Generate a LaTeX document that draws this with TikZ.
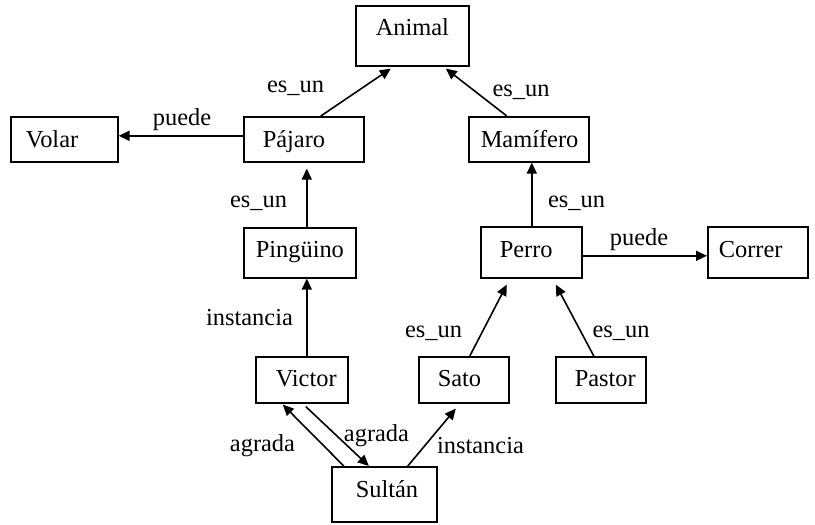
\documentclass[tikz,border=0pt]{standalone}
\usepackage{fontspec}
\setmainfont{Liberation Serif}
\usetikzlibrary{arrows.meta}

\begin{document}
\begin{tikzpicture}[x=0.5pt,y=-0.5pt,
  every node/.style={font=\fontsize{12.2}{14}\selectfont},
  caja/.style={draw,line width=0.8pt,anchor=north west,inner ysep=0pt,align=left,text height=15.5pt,text depth=7pt},
  etiqueta/.style={anchor=base,inner sep=0pt},
  flecha/.style={line width=0.8pt,-{Triangle[length=5.5pt,width=5pt]}}]

  \useasboundingbox (0,0) rectangle (815,525);

  \node[caja,inner xsep=10pt,text width=36.5pt,text height=15pt,text depth=15pt] (animal) at (355,5) {Animal};
  \node[caja,inner xsep=7.5pt,text width=38.5pt] (volar) at (10,116) {Volar};
  \node[caja,inner xsep=9.5pt,text width=41pt] (pajaro) at (243,116) {Pájaro};
  \node[caja,inner xsep=6pt,text width=48pt] (mamifero) at (468,116) {Mamífero};
  \node[caja,inner xsep=6pt,text width=44pt,text height=15pt,text depth=10pt] (pinguino) at (243,227) {Pingüino};
  \node[caja,inner xsep=9.5pt,text width=31.5pt,text depth=10pt] (perro) at (480,226) {Perro};
  \node[caja,inner xsep=5.5pt,text width=39pt,text depth=10pt] (correr) at (707,226) {Correr};
  \node[caja,inner xsep=10pt,text width=26pt,text height=15pt,text depth=8pt] (victor) at (255,356) {Victor};
  \node[caja,inner xsep=9.5pt,text width=26pt,text height=15pt,text depth=8pt] (sato) at (418,356) {Sato};
  \node[caja,inner xsep=9.5pt,text width=26pt,text height=15pt,text depth=8pt] (pastor) at (555,356) {Pastor};
  \node[caja,inner xsep=12pt,text width=28.5pt,text depth=12pt] (sultan) at (331,466) {Sultán};

  \draw[flecha] ([xshift=8.5pt]pajaro.north) -- ([xshift=-10.75pt,yshift=-1pt]animal.south);
  \draw[flecha] ([xshift=-11pt]mamifero.north) -- ([xshift=16.75pt,yshift=-1pt]animal.south);
  \draw[flecha] ([yshift=1.75pt]pajaro.west) -- ([yshift=1.75pt]volar.east);
  \draw[flecha] ([xshift=3.5pt]pinguino.north) -- ([xshift=1.5pt,yshift=-3pt]pajaro.south);
  \draw[flecha] ([xshift=0.25pt]perro.north) -- ([xshift=0.25pt]perro.north |- mamifero.south);
  \draw[flecha] ([yshift=-1.75pt]perro.east) -- ([yshift=-1.75pt]correr.west);
  \draw[flecha] ([xshift=2.5pt]victor.north) -- ([xshift=3.5pt]pinguino.south);
  \draw[flecha] ([xshift=3pt]sato.north) -- ([xshift=-12.25pt,yshift=-3pt]perro.south);
  \draw[flecha] ([xshift=-3.5pt]pastor.north) -- ([xshift=12.25pt,yshift=-3pt]perro.south);
  \draw[flecha] ([xshift=11.75pt]sultan.north) -- ([xshift=-4pt,yshift=-2.5pt]sato.south);
  \draw[flecha] ([xshift=-20.25pt]sultan.north) -- ([xshift=-9.5pt,yshift=-0.5pt]victor.south);
  \draw[flecha] ([xshift=2pt,yshift=-1.5pt]victor.south) -- ([xshift=-7.75pt]sultan.north);

  \node[etiqueta] (esun1) at (295.5,92) {es\_un};
  \node[etiqueta] (puede1) at (182,125) {puede};
  \node[etiqueta] (esun2) at (258.5,207) {es\_un};
  \node[etiqueta] (esun3) at (521,96) {es\_un};
  \node[etiqueta] (esun4) at (576.5,207) {es\_un};
  \node[etiqueta] (puede2) at (639,245) {puede};
  \node[etiqueta] (inst1) at (249.5,325) {instancia};
  \node[etiqueta] (esun5) at (433.5,337) {es\_un};
  \node[etiqueta] (esun6) at (621,337) {es\_un};
  \node[etiqueta] (inst2) at (480.5,453) {instancia};
  \node[etiqueta] (agrada1) at (262.5,451) {agrada};
  \node[etiqueta] (agrada2) at (376.5,441) {agrada};

\end{tikzpicture}
\end{document}
